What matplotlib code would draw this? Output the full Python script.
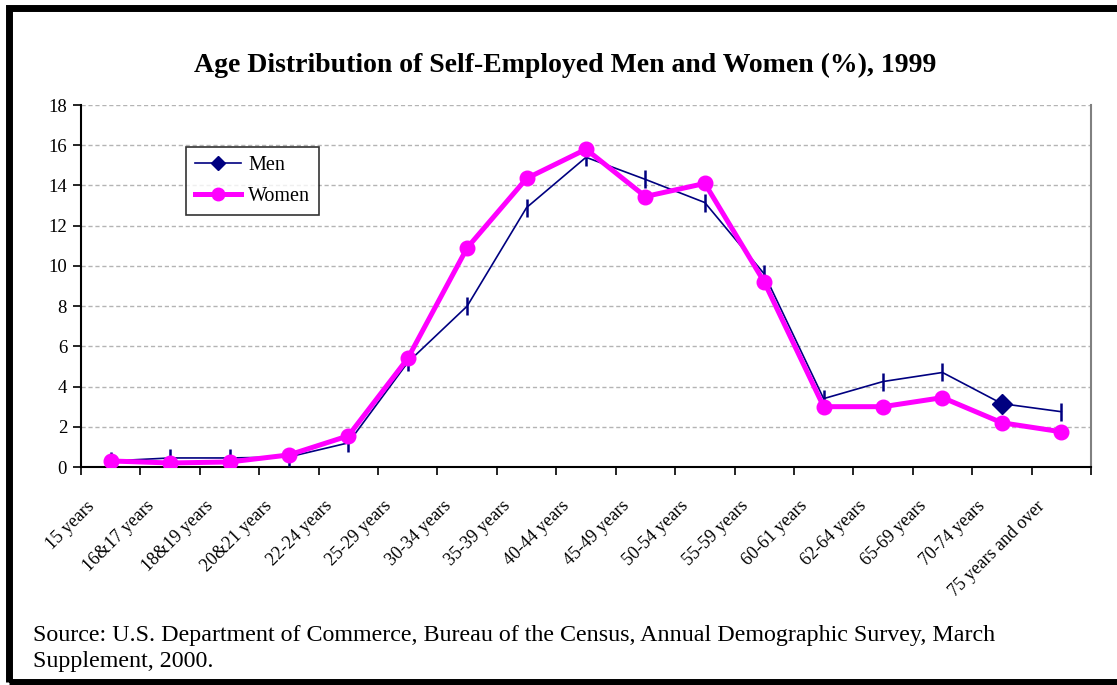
import numpy as np
import matplotlib
matplotlib.use("Agg")
import matplotlib.pyplot as plt
import matplotlib.transforms as mtransforms
from matplotlib.lines import Line2D
from matplotlib.patches import Rectangle

plt.rcParams['font.family'] = ['Liberation Serif', 'DejaVu Serif']

# Data
age_groups = ['15 years', '16&17 years', '18&19 years', '20&21 years', '22-24 years',
              '25-29 years', '30-34 years', '35-39 years', '40-44 years', '45-49 years',
              '50-54 years', '55-59 years', '60-61 years', '62-64 years', '65-69 years',
              '70-74 years', '75 years and over']
men = [0.3, 0.45, 0.45, 0.5, 1.2, 5.2, 8.0, 12.9, 15.4, 14.3, 13.15, 9.6,
       3.4, 4.25, 4.7, 3.15, 2.75]
women = [0.3, 0.2, 0.25, 0.6, 1.55, 5.4, 10.9, 14.35, 15.8, 13.45, 14.1, 9.2,
         3.0, 3.0, 3.45, 2.2, 1.75]
diamond_group = '70-74 years'

W, H = 1117, 685
fig = plt.figure(figsize=(W / 100, H / 100), dpi=100)
ax = fig.add_axes([81 / W, (H - 467) / H, 1010 / W, 362 / H])

x = np.arange(len(age_groups))
navy = '#000080'
magenta = '#ff00ff'

ax.plot(x, men, color=navy, lw=1.2, marker='|', ms=13, mew=1.8, zorder=3)
di = age_groups.index(diamond_group)
ax.plot(x[di], men[di], 'D', color=navy, ms=10, zorder=3)
ax.plot(x, women, color=magenta, lw=3.6, marker='o', ms=10.5, zorder=4)

ax.set_xlim(-0.5, len(age_groups) - 0.5)
ax.set_ylim(0, 18)
ax.set_yticks(np.arange(0, 19, 2))
ax.yaxis.grid(True, color='#b4b4b4', linestyle=(0, (3, 2)), lw=1)
ax.set_axisbelow(True)

# category boundaries get tick marks, centres get the labels
ax.set_xticks(np.arange(-0.5, len(age_groups), 1))
ax.set_xticklabels([])
ax.set_xticks(x, minor=True)
ax.set_xticklabels(age_groups, minor=True, rotation=45, ha='right', va='top',
                   rotation_mode='anchor', fontsize=13)
ax.tick_params(axis='x', which='minor', length=0, pad=22)
ax.tick_params(axis='x', which='major', length=6, width=1.2, direction='out')
ax.tick_params(axis='y', length=6, width=1.2, direction='out', labelsize=13.5, pad=4)
shift = mtransforms.ScaledTranslation(-25 / 100, 0, fig.dpi_scale_trans)
for lab in ax.get_xticklabels(minor=True):
    lab.set_transform(lab.get_transform() + shift)

for side in ['left', 'bottom']:
    ax.spines[side].set_linewidth(1.5)
    ax.spines[side].set_color('black')
ax.spines['right'].set_color('#808080')
ax.spines['right'].set_linewidth(1.5)
ax.spines['top'].set_visible(False)

handles = [Line2D([], [], color=navy, lw=1.2, marker='D', ms=7),
           Line2D([], [], color=magenta, lw=3.6, marker='o', ms=9)]
leg = ax.legend(handles, ['Men', 'Women'], loc='upper left',
                bbox_to_anchor=((186 - 81) / 1010, (467 - 147) / 362),
                fontsize=14.5, frameon=True, fancybox=False, edgecolor='black',
                handlelength=2.3, handletextpad=0.35, borderpad=0.45, labelspacing=0.6,
                borderaxespad=0)
leg.get_frame().set_linewidth(1.2)

fig.text(565 / W, 1 - 65 / H, 'Age Distribution of Self-Employed Men and Women (%), 1999',
         ha='center', va='center', fontsize=20, fontweight='bold')
fig.text(33 / W, 1 - 635 / H,
         'Source: U.S. Department of Commerce, Bureau of the Census, Annual Demographic Survey, March',
         ha='left', va='center', fontsize=17.3)
fig.text(33 / W, 1 - 662 / H, 'Supplement, 2000.', ha='left', va='center', fontsize=17.3)

# thick outer frame, right edge falls outside the picture
fig.patches.append(Rectangle((9 / W, 1 - 682 / H), 1.05, (682 - 8) / H,
                             transform=fig.transFigure, fill=False,
                             edgecolor='black', lw=5, zorder=10))

fig.savefig('out.png', dpi=100)
